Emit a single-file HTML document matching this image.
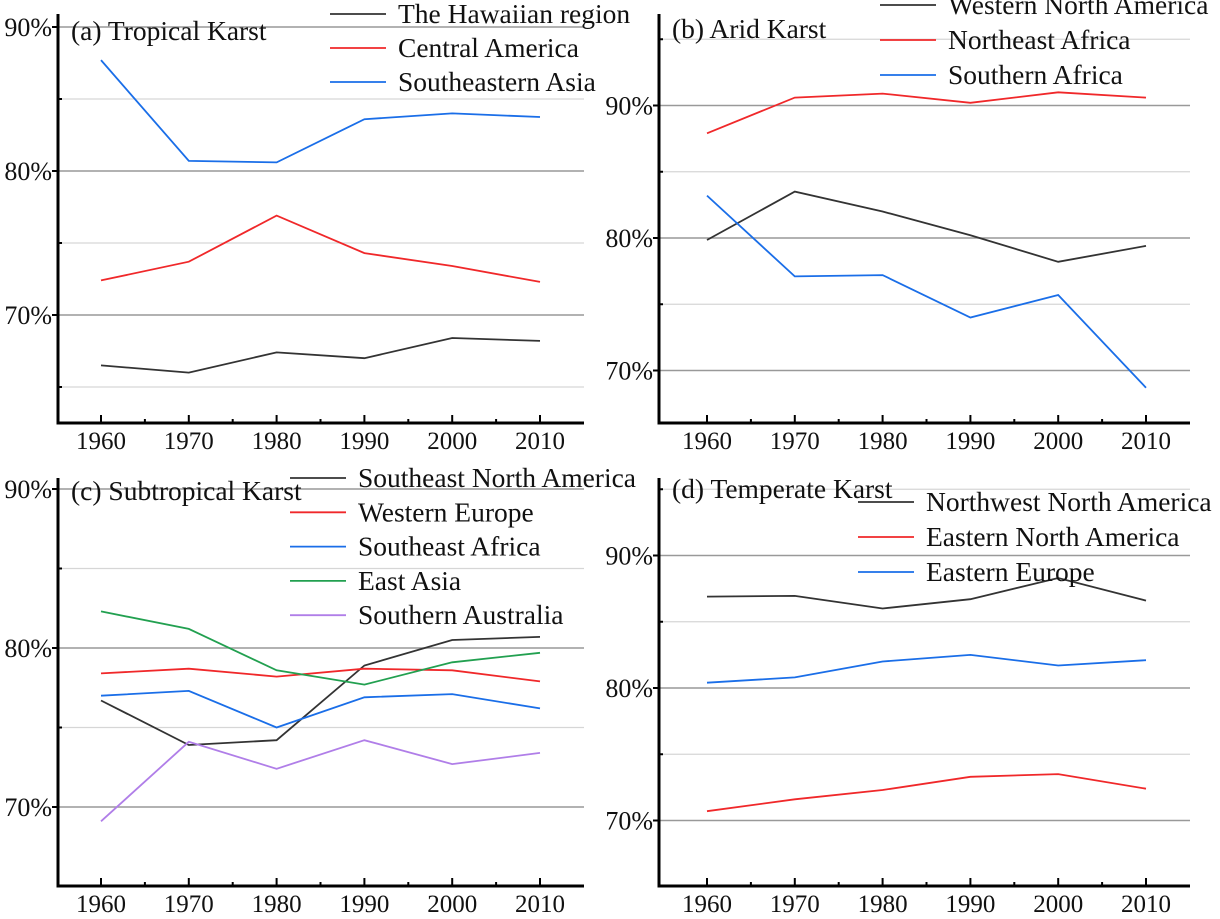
<!DOCTYPE html>
<html><head><meta charset="utf-8"><style>
body{margin:0;background:#fff;}
svg text{font-family:"Liberation Serif",serif;fill:#111;}
</style></head><body>
<svg id="c" width="1220" height="914" xmlns="http://www.w3.org/2000/svg"></svg>
<script>
const years=[1960,1970,1980,1990,2000,2010];
const tickLabels=["70%","80%","90%"];
const tickValues=[70,80,90];
// (a) Tropical
const aNames=["The Hawaiian region","Central America","Southeastern Asia"];
const aHawaii=[66.5,66.0,67.4,67.0,68.4,68.2];
const aCentral=[72.4,73.7,76.9,74.3,73.4,72.3];
const aSEAsia=[87.7,80.7,80.6,83.6,84.0,83.75];
// (b) Arid
const bNames=["Western North America","Northeast Africa","Southern Africa"];
const bWNA=[79.85,83.5,82.0,80.2,78.2,79.4];
const bNEAfrica=[87.9,90.6,90.9,90.2,91.0,90.6];
const bSAfrica=[83.2,77.1,77.2,74.0,75.7,68.7];
// (c) Subtropical
const cNames=["Southeast North America","Western Europe","Southeast Africa","East Asia","Southern Australia"];
const cSENA=[76.7,73.9,74.2,78.9,80.5,80.7];
const cWEurope=[78.4,78.7,78.2,78.7,78.6,77.9];
const cSEAfrica=[77.0,77.3,75.0,76.9,77.1,76.2];
const cEAsia=[82.3,81.2,78.6,77.7,79.1,79.7];
const cSAus=[69.1,74.1,72.4,74.2,72.7,73.4];
// (d) Temperate
const dNames=["Northwest North America","Eastern North America","Eastern Europe"];
const dNWNA=[86.9,86.95,86.0,86.7,88.3,86.6];
const dENA=[70.7,71.6,72.3,73.3,73.5,72.4];
const dEEurope=[80.4,80.8,82.0,82.5,81.7,82.1];

const cols={k:"#333",r:"#f0282a",b:"#1a6ee8",g:"#22a050",p:"#b07ee8"};
const svg=document.getElementById('c');
const NS="http://www.w3.org/2000/svg";
function mk(t,a,p){const e=document.createElementNS(NS,t);for(const k in a)e.setAttribute(k,a[k]);(p||svg).appendChild(e);return e;}

function panel(o){
  const g=mk('g',{});
  
  
  const xs=v=>o.x1960+(v-1960)*(o.x2010-o.x1960)/50;
  const ys=v=>o.y80+(80-v)*o.ppu;
  for(let v=60;v<=100;v+=5){
    const y=ys(v); if(y<o.top+8||y>o.bottom-2)continue;
    const major=v%10===0;
    const l=mk('line',{x1:o.left,x2:o.right,y1:y,y2:y,stroke:major?"#999":"#d6d6d6","stroke-width":major?1.5:1.2},g);
    
    
    mk('line',{x1:o.left-(major?6:0),x2:o.left+(major?0:4),y1:y,y2:y,stroke:"#000","stroke-width":2},g);
  }
  const ax=mk('path',{d:`M${o.left},${o.top} V${o.bottom} H${o.right}`,fill:"none",stroke:"#000","stroke-width":3},g);
  
  
  years.forEach((yr,i)=>{
    const x=xs(yr);
    mk('line',{x1:x,x2:x,y1:o.bottom,y2:o.bottom-8,stroke:"#000","stroke-width":2},g);
    if(i<years.length-1){const xm=xs(yr+5);mk('line',{x1:xm,x2:xm,y1:o.bottom,y2:o.bottom-4,stroke:"#000","stroke-width":2},g);}
    const t=mk('text',{x:x,y:o.bottom+26,"text-anchor":"middle","font-size":25},g);
    t.textContent=yr;
    
    
  });
  tickValues.forEach((v,i)=>{
    const t=mk('text',{x:o.left-6,y:ys(v)+9,"text-anchor":"end","font-size":26},g);
    t.textContent=tickLabels[i];
    
    
  });
  o.series.forEach((s,si)=>{
    const pts=s.v.map((v,i)=>xs(years[i]).toFixed(1)+","+ys(v).toFixed(1)).join(" ");
    const pl=mk('polyline',{points:pts,fill:"none",stroke:cols[s.c],"stroke-width":1.8},g);
    
    
    const ly=o.legY+si*o.legStep;
    const ll=mk('line',{x1:o.legX,x2:o.legX+56,y1:ly,y2:ly,stroke:cols[s.c],"stroke-width":1.8},g);
    
    
    const lt=mk('text',{x:o.legX+68,y:ly+9,"font-size":27.5},g);
    lt.textContent=s.n;
    
    
  });
  const tt=mk('text',{x:o.left+13,y:o.titleY,"font-size":27.5},g);
  tt.textContent=o.title;
  
  
}

panel({id:"panel-a",title:"(a) Tropical Karst",left:58,right:584,top:14,bottom:423,x1960:101,x2010:540,y80:171,ppu:14.4,titleY:40,legX:330,legY:14,legStep:34,
  series:[{n:aNames[0],v:aHawaii,c:"k"},{n:aNames[1],v:aCentral,c:"r"},{n:aNames[2],v:aSEAsia,c:"b"}]});
panel({id:"panel-b",title:"(b) Arid Karst",left:659,right:1190,top:14,bottom:423,x1960:707,x2010:1146,y80:238,ppu:13.25,titleY:38,legX:880,legY:5,legStep:35,
  series:[{n:bNames[0],v:bWNA,c:"k"},{n:bNames[1],v:bNEAfrica,c:"r"},{n:bNames[2],v:bSAfrica,c:"b"}]});
panel({id:"panel-c",title:"(c) Subtropical Karst",left:58,right:584,top:478,bottom:886,x1960:101,x2010:540,y80:648,ppu:15.9,titleY:500,legX:290,legY:478,legStep:34.3,
  series:[{n:cNames[0],v:cSENA,c:"k"},{n:cNames[1],v:cWEurope,c:"r"},{n:cNames[2],v:cSEAfrica,c:"b"},{n:cNames[3],v:cEAsia,c:"g"},{n:cNames[4],v:cSAus,c:"p"}]});
panel({id:"panel-d",title:"(d) Temperate Karst",left:659,right:1190,top:478,bottom:886,x1960:707,x2010:1146,y80:688,ppu:13.25,titleY:498,legX:858,legY:502,legStep:35,
  series:[{n:dNames[0],v:dNWNA,c:"k"},{n:dNames[1],v:dENA,c:"r"},{n:dNames[2],v:dEEurope,c:"b"}]});
</script>
</body></html>
